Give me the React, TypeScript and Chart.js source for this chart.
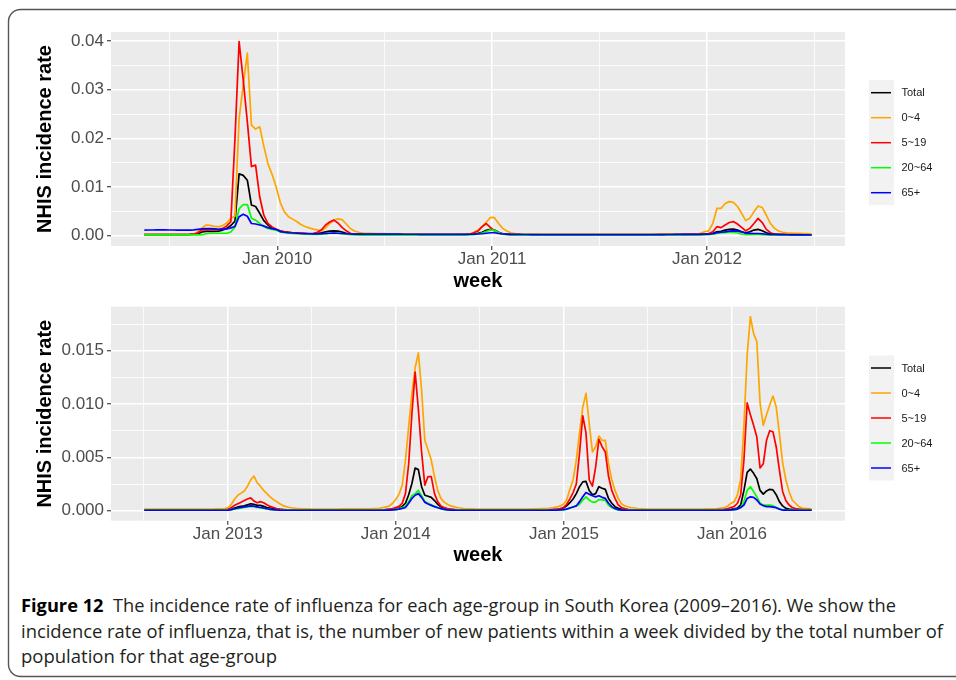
import React, { useEffect, useRef } from 'react';
import { Chart, registerables } from 'chart.js';

Chart.register(...registerables);

const SERIES_NAMES = ['Total', '0~4', '5~19', '20~64', '65+'];
const SERIES_COLORS = ['#000000', '#FFA500', '#FF0000', '#00FF00', '#0000FF'];

// ---- Top panel: weekly incidence, per 1,000 population (week 0 = 2009-05-20) ----
const TOP_START = '2009-05-20';
const TOP_TOTAL = [
  0.2, 0.2, 0.2, 0.2, 0.2, 0.2, 0.2, 0.2, 0.22, 0.22,
  0.22, 0.25, 0.3, 0.4, 0.75, 0.9, 0.9, 0.9, 0.95, 1.15,
  1.5, 2.1, 3.0, 12.7, 12.4, 11.4, 6.3, 6.0, 4.6, 3.1,
  2.2, 1.6, 1.2, 0.95, 0.8, 0.7, 0.6, 0.55, 0.5, 0.45,
  0.4, 0.4, 0.45, 0.6, 0.8, 0.95, 1.0, 0.95, 0.75, 0.5,
  0.35, 0.3, 0.28, 0.27, 0.26, 0.25, 0.25, 0.25, 0.24, 0.24,
  0.24, 0.23, 0.23, 0.23, 0.22, 0.22, 0.22, 0.22, 0.22, 0.22,
  0.22, 0.22, 0.22, 0.23, 0.23, 0.24, 0.24, 0.25, 0.27, 0.3,
  0.35, 0.5, 0.7, 1.1, 1.3, 1.15, 0.7, 0.4, 0.3, 0.26,
  0.24, 0.22, 0.2, 0.2, 0.2, 0.2, 0.19, 0.19, 0.19, 0.19,
  0.18, 0.18, 0.18, 0.18, 0.18, 0.18, 0.18, 0.18, 0.18, 0.18,
  0.18, 0.18, 0.18, 0.18, 0.18, 0.18, 0.18, 0.18, 0.18, 0.18,
  0.18, 0.19, 0.19, 0.19, 0.2, 0.2, 0.2, 0.21, 0.21, 0.22,
  0.22, 0.23, 0.24, 0.25, 0.27, 0.28, 0.3, 0.35, 0.5, 0.8,
  0.9, 1.15, 1.3, 1.35, 1.15, 0.8, 0.6, 0.8, 1.15, 1.3,
  1.0, 0.6, 0.35, 0.28, 0.25, 0.24, 0.22, 0.2, 0.2, 0.19,
  0.18, 0.17, 0.16,
];
const TOP_AGE0_4 = [
  0.2, 0.2, 0.2, 0.2, 0.2, 0.2, 0.2, 0.2, 0.22, 0.22,
  0.22, 0.25, 0.3, 0.8, 1.6, 2.2, 2.1, 1.9, 1.8, 2.1,
  2.6, 3.6, 4.0, 24.0, 31.0, 37.5, 22.7, 21.9, 22.4, 18.4,
  14.8, 12.6, 10.0, 6.8, 4.9, 3.9, 3.4, 2.9, 2.3, 1.9,
  1.6, 1.35, 1.2, 1.0, 1.6, 2.5, 3.2, 3.45, 3.3, 2.4,
  1.5, 0.95, 0.7, 0.55, 0.5, 0.48, 0.45, 0.45, 0.42, 0.4,
  0.4, 0.38, 0.38, 0.36, 0.35, 0.35, 0.34, 0.34, 0.33, 0.33,
  0.32, 0.32, 0.32, 0.32, 0.32, 0.32, 0.32, 0.32, 0.33, 0.35,
  0.7, 1.15, 1.85, 2.75, 3.75, 3.7, 2.5, 1.5, 0.95, 0.6,
  0.42, 0.35, 0.32, 0.3, 0.3, 0.3, 0.3, 0.3, 0.3, 0.3,
  0.3, 0.3, 0.3, 0.3, 0.3, 0.3, 0.3, 0.3, 0.3, 0.3,
  0.3, 0.3, 0.3, 0.3, 0.3, 0.3, 0.3, 0.3, 0.3, 0.3,
  0.3, 0.3, 0.3, 0.3, 0.3, 0.3, 0.31, 0.31, 0.32, 0.32,
  0.32, 0.33, 0.33, 0.34, 0.35, 0.5, 0.8, 1.0, 2.5, 5.6,
  5.6, 6.6, 7.0, 6.85, 6.0, 4.6, 3.1, 3.6, 4.9, 6.1,
  5.8, 4.2, 2.5, 1.5, 0.95, 0.7, 0.6, 0.55, 0.5, 0.48,
  0.45, 0.42, 0.4,
];
const TOP_AGE5_19 = [
  0.2, 0.2, 0.2, 0.2, 0.2, 0.2, 0.2, 0.2, 0.22, 0.22,
  0.22, 0.25, 0.3, 0.6, 1.2, 1.2, 1.25, 1.3, 1.2, 1.5,
  2.0, 2.9, 20.0, 39.9, 32.0, 23.4, 14.2, 14.5, 8.0, 4.2,
  2.5, 1.8, 1.3, 1.0, 0.8, 0.7, 0.6, 0.55, 0.5, 0.45,
  0.45, 0.5, 0.7, 1.2, 2.2, 2.8, 3.2, 2.6, 1.7, 1.0,
  0.5, 0.3, 0.25, 0.23, 0.22, 0.22, 0.21, 0.21, 0.2, 0.2,
  0.2, 0.2, 0.2, 0.2, 0.2, 0.2, 0.2, 0.2, 0.2, 0.2,
  0.2, 0.2, 0.2, 0.2, 0.2, 0.2, 0.21, 0.22, 0.24, 0.3,
  0.6, 0.95, 1.85, 2.5, 1.7, 1.0, 0.6, 0.35, 0.25, 0.22,
  0.2, 0.2, 0.19, 0.19, 0.19, 0.18, 0.18, 0.18, 0.18, 0.18,
  0.18, 0.18, 0.18, 0.18, 0.18, 0.18, 0.18, 0.18, 0.18, 0.18,
  0.18, 0.18, 0.18, 0.18, 0.18, 0.18, 0.18, 0.18, 0.18, 0.18,
  0.18, 0.18, 0.18, 0.19, 0.19, 0.2, 0.2, 0.21, 0.22, 0.23,
  0.24, 0.25, 0.26, 0.27, 0.28, 0.3, 0.35, 0.45, 0.8, 1.85,
  1.65, 2.2, 2.7, 2.9, 2.4, 1.7, 1.0, 1.5, 2.5, 3.55,
  2.7, 1.3, 0.6, 0.35, 0.28, 0.25, 0.23, 0.22, 0.2, 0.2,
  0.19, 0.18, 0.17,
];
const TOP_AGE20_64 = [
  0.15, 0.15, 0.15, 0.15, 0.15, 0.15, 0.15, 0.15, 0.15, 0.15,
  0.15, 0.15, 0.15, 0.15, 0.2, 0.4, 0.5, 0.5, 0.5, 0.5,
  0.5, 0.75, 1.8, 5.5, 6.4, 6.4, 3.6, 3.2, 2.5, 1.85,
  1.5, 1.3, 1.15, 0.75, 0.6, 0.5, 0.45, 0.4, 0.35, 0.3,
  0.28, 0.25, 0.25, 0.3, 0.4, 0.5, 0.55, 0.5, 0.4, 0.3,
  0.2, 0.15, 0.14, 0.13, 0.13, 0.12, 0.12, 0.12, 0.12, 0.12,
  0.12, 0.12, 0.12, 0.12, 0.12, 0.12, 0.12, 0.12, 0.12, 0.12,
  0.12, 0.12, 0.12, 0.12, 0.12, 0.12, 0.12, 0.12, 0.13, 0.15,
  0.2, 0.35, 0.55, 0.85, 1.2, 1.1, 0.6, 0.3, 0.2, 0.15,
  0.13, 0.12, 0.12, 0.11, 0.11, 0.1, 0.1, 0.1, 0.1, 0.1,
  0.1, 0.1, 0.1, 0.1, 0.1, 0.1, 0.1, 0.1, 0.1, 0.1,
  0.1, 0.1, 0.1, 0.1, 0.1, 0.1, 0.1, 0.1, 0.1, 0.1,
  0.1, 0.1, 0.1, 0.1, 0.1, 0.11, 0.11, 0.12, 0.12, 0.13,
  0.13, 0.14, 0.14, 0.15, 0.15, 0.16, 0.18, 0.2, 0.3, 0.48,
  0.55, 0.6, 0.7, 0.7, 0.55, 0.35, 0.2, 0.2, 0.25, 0.28,
  0.22, 0.15, 0.12, 0.11, 0.1, 0.1, 0.1, 0.1, 0.1, 0.1,
  0.1, 0.1, 0.1,
];
const TOP_AGE65 = [
  1.16, 1.17, 1.17, 1.18, 1.18, 1.18, 1.17, 1.17, 1.16, 1.16,
  1.16, 1.16, 1.18, 1.3, 1.4, 1.45, 1.45, 1.4, 1.3, 1.35,
  1.4, 1.6, 1.9, 3.9, 4.4, 4.0, 2.5, 2.4, 2.2, 2.0,
  1.65, 1.45, 1.3, 0.85, 0.7, 0.6, 0.55, 0.5, 0.45, 0.42,
  0.4, 0.38, 0.38, 0.4, 0.45, 0.5, 0.55, 0.5, 0.45, 0.4,
  0.35, 0.33, 0.32, 0.32, 0.31, 0.31, 0.3, 0.3, 0.3, 0.3,
  0.3, 0.3, 0.3, 0.29, 0.29, 0.29, 0.29, 0.28, 0.28, 0.28,
  0.28, 0.28, 0.28, 0.28, 0.28, 0.28, 0.28, 0.28, 0.28, 0.29,
  0.3, 0.35, 0.4, 0.5, 0.6, 0.6, 0.45, 0.35, 0.3, 0.28,
  0.26, 0.25, 0.24, 0.24, 0.23, 0.23, 0.22, 0.22, 0.22, 0.22,
  0.22, 0.22, 0.22, 0.22, 0.22, 0.22, 0.22, 0.22, 0.22, 0.22,
  0.22, 0.22, 0.22, 0.22, 0.22, 0.22, 0.22, 0.22, 0.22, 0.22,
  0.22, 0.22, 0.22, 0.22, 0.22, 0.23, 0.23, 0.24, 0.24, 0.25,
  0.25, 0.26, 0.26, 0.27, 0.27, 0.28, 0.29, 0.3, 0.4, 0.6,
  0.7, 0.8, 0.95, 1.0, 0.95, 0.8, 0.5, 0.48, 0.45, 0.45,
  0.4, 0.3, 0.27, 0.25, 0.22, 0.2, 0.19, 0.18, 0.17, 0.16,
  0.15, 0.15, 0.14,
];

// ---- Bottom panel: weekly incidence, per 1,000 population (week 0 = 2012-07-04) ----
const BOTTOM_START = '2012-07-04';
const BOTTOM_TOTAL = [
  0.08, 0.08, 0.08, 0.08, 0.08, 0.08, 0.08, 0.08, 0.08, 0.08,
  0.08, 0.08, 0.08, 0.08, 0.08, 0.08, 0.08, 0.08, 0.08, 0.08,
  0.08, 0.08, 0.08, 0.08, 0.08, 0.09, 0.1, 0.15, 0.25, 0.35,
  0.4, 0.45, 0.55, 0.65, 0.6, 0.5, 0.5, 0.4, 0.3, 0.25,
  0.2, 0.15, 0.12, 0.1, 0.09, 0.08, 0.08, 0.08, 0.08, 0.08,
  0.08, 0.08, 0.08, 0.08, 0.08, 0.08, 0.08, 0.08, 0.08, 0.08,
  0.08, 0.08, 0.08, 0.08, 0.08, 0.08, 0.08, 0.08, 0.08, 0.08,
  0.08, 0.08, 0.08, 0.08, 0.09, 0.1, 0.11, 0.12, 0.18, 0.25,
  0.4, 0.7, 1.5, 2.55, 4.0, 3.85, 2.25, 1.45, 1.35, 1.25,
  0.95, 0.6, 0.35, 0.25, 0.18, 0.12, 0.1, 0.09, 0.08, 0.08,
  0.08, 0.08, 0.08, 0.08, 0.08, 0.08, 0.08, 0.08, 0.08, 0.08,
  0.08, 0.08, 0.08, 0.08, 0.08, 0.08, 0.08, 0.08, 0.08, 0.08,
  0.08, 0.08, 0.08, 0.08, 0.08, 0.08, 0.09, 0.1, 0.11, 0.15,
  0.25, 0.45, 0.75, 1.1, 1.6, 2.25, 2.7, 2.75, 1.9, 1.5,
  1.6, 2.25, 2.1, 2.0, 1.15, 0.7, 0.38, 0.22, 0.15, 0.1,
  0.09, 0.08, 0.08, 0.08, 0.08, 0.08, 0.08, 0.08, 0.08, 0.08,
  0.08, 0.08, 0.08, 0.08, 0.08, 0.08, 0.08, 0.08, 0.08, 0.08,
  0.08, 0.08, 0.08, 0.08, 0.08, 0.08, 0.08, 0.08, 0.09, 0.09,
  0.1, 0.11, 0.12, 0.18, 0.25, 0.55, 1.9, 3.6, 3.9, 3.5,
  3.0, 1.9, 1.55, 1.85, 2.0, 1.95, 1.5, 0.85, 0.45, 0.22,
  0.15, 0.12, 0.1, 0.1, 0.1, 0.09, 0.09, 0.08,
];
const BOTTOM_AGE0_4 = [
  0.16, 0.16, 0.16, 0.16, 0.16, 0.16, 0.16, 0.16, 0.16, 0.16,
  0.16, 0.16, 0.16, 0.16, 0.16, 0.16, 0.16, 0.16, 0.16, 0.16,
  0.16, 0.16, 0.17, 0.17, 0.18, 0.2, 0.3, 0.6, 1.1, 1.45,
  1.65, 1.85, 2.3, 2.9, 3.25, 2.6, 2.3, 1.9, 1.6, 1.3,
  1.05, 0.85, 0.65, 0.48, 0.38, 0.3, 0.25, 0.22, 0.2, 0.18,
  0.17, 0.17, 0.16, 0.16, 0.16, 0.16, 0.16, 0.16, 0.16, 0.16,
  0.16, 0.17, 0.17, 0.17, 0.17, 0.17, 0.17, 0.17, 0.18, 0.18,
  0.18, 0.19, 0.2, 0.22, 0.3, 0.35, 0.45, 0.7, 1.05, 1.55,
  2.4, 4.75, 7.9, 11.0, 13.4, 14.8, 11.3, 6.6, 5.7, 4.75,
  3.2, 1.9, 1.15, 0.8, 0.6, 0.45, 0.38, 0.3, 0.25, 0.2,
  0.18, 0.17, 0.17, 0.16, 0.16, 0.16, 0.16, 0.16, 0.16, 0.16,
  0.16, 0.16, 0.16, 0.16, 0.16, 0.16, 0.16, 0.16, 0.16, 0.16,
  0.17, 0.17, 0.18, 0.19, 0.2, 0.22, 0.25, 0.3, 0.35, 0.45,
  0.6, 1.0, 2.0, 2.9, 4.75, 7.3, 9.7, 11.0, 8.2, 5.5,
  6.0, 7.0, 6.6, 6.6, 4.4, 2.9, 1.9, 1.15, 0.65, 0.45,
  0.37, 0.3, 0.25, 0.2, 0.18, 0.17, 0.16, 0.16, 0.16, 0.16,
  0.16, 0.16, 0.16, 0.16, 0.16, 0.16, 0.16, 0.16, 0.16, 0.16,
  0.16, 0.16, 0.16, 0.16, 0.17, 0.17, 0.18, 0.18, 0.2, 0.25,
  0.3, 0.45, 0.7, 0.85, 1.5, 3.0, 8.0, 14.6, 18.2, 16.6,
  15.85, 10.1, 8.0, 9.0, 9.9, 10.75, 9.75, 7.25, 4.5, 2.9,
  1.8, 1.0, 0.7, 0.4, 0.25, 0.22, 0.2, 0.15,
];
const BOTTOM_AGE5_19 = [
  0.08, 0.08, 0.08, 0.08, 0.08, 0.08, 0.08, 0.08, 0.08, 0.08,
  0.08, 0.08, 0.08, 0.08, 0.08, 0.08, 0.08, 0.08, 0.08, 0.08,
  0.08, 0.08, 0.08, 0.08, 0.08, 0.09, 0.12, 0.3, 0.5, 0.65,
  0.8, 0.95, 1.1, 1.2, 0.9, 0.75, 0.85, 0.75, 0.55, 0.4,
  0.3, 0.2, 0.15, 0.12, 0.1, 0.09, 0.08, 0.08, 0.08, 0.08,
  0.08, 0.08, 0.08, 0.08, 0.08, 0.08, 0.08, 0.08, 0.08, 0.08,
  0.08, 0.08, 0.08, 0.08, 0.08, 0.08, 0.08, 0.08, 0.08, 0.08,
  0.08, 0.08, 0.08, 0.08, 0.09, 0.1, 0.15, 0.2, 0.3, 0.4,
  0.7, 1.6, 4.4, 9.1, 13.0, 9.5, 5.5, 2.4, 3.2, 3.2,
  1.6, 0.85, 0.45, 0.3, 0.2, 0.15, 0.12, 0.1, 0.09, 0.08,
  0.08, 0.08, 0.08, 0.08, 0.08, 0.08, 0.08, 0.08, 0.08, 0.08,
  0.08, 0.08, 0.08, 0.08, 0.08, 0.08, 0.08, 0.08, 0.08, 0.08,
  0.08, 0.08, 0.08, 0.08, 0.08, 0.09, 0.1, 0.12, 0.15, 0.2,
  0.3, 0.6, 1.1, 1.7, 2.5, 5.4, 8.9, 7.3, 2.9, 2.3,
  4.1, 6.7, 6.0, 5.5, 3.2, 1.9, 1.15, 0.55, 0.3, 0.2,
  0.12, 0.1, 0.09, 0.08, 0.08, 0.08, 0.08, 0.08, 0.08, 0.08,
  0.08, 0.08, 0.08, 0.08, 0.08, 0.08, 0.08, 0.08, 0.08, 0.08,
  0.08, 0.08, 0.08, 0.08, 0.08, 0.08, 0.09, 0.09, 0.1, 0.1,
  0.12, 0.2, 0.3, 0.4, 0.7, 1.5, 4.75, 10.1, 9.0, 8.0,
  6.9, 4.0, 4.4, 6.6, 7.5, 7.4, 6.0, 3.8, 1.8, 0.95,
  0.53, 0.3, 0.2, 0.15, 0.12, 0.1, 0.1, 0.09,
];
const BOTTOM_AGE20_64 = [
  0.05, 0.05, 0.05, 0.05, 0.05, 0.05, 0.05, 0.05, 0.05, 0.05,
  0.05, 0.05, 0.05, 0.05, 0.05, 0.05, 0.05, 0.05, 0.05, 0.05,
  0.05, 0.05, 0.05, 0.05, 0.05, 0.05, 0.06, 0.1, 0.15, 0.2,
  0.25, 0.3, 0.35, 0.4, 0.38, 0.3, 0.28, 0.22, 0.16, 0.12,
  0.08, 0.07, 0.06, 0.05, 0.05, 0.05, 0.05, 0.05, 0.05, 0.05,
  0.05, 0.05, 0.05, 0.05, 0.05, 0.05, 0.05, 0.05, 0.05, 0.05,
  0.05, 0.05, 0.05, 0.05, 0.05, 0.05, 0.05, 0.05, 0.05, 0.05,
  0.05, 0.05, 0.05, 0.05, 0.05, 0.05, 0.06, 0.08, 0.12, 0.2,
  0.3, 0.4, 0.85, 1.4, 1.6, 1.9, 1.4, 0.85, 0.7, 0.55,
  0.4, 0.3, 0.2, 0.12, 0.08, 0.06, 0.05, 0.05, 0.05, 0.05,
  0.05, 0.05, 0.05, 0.05, 0.05, 0.05, 0.05, 0.05, 0.05, 0.05,
  0.05, 0.05, 0.05, 0.05, 0.05, 0.05, 0.05, 0.05, 0.05, 0.05,
  0.05, 0.05, 0.05, 0.05, 0.05, 0.05, 0.05, 0.06, 0.07, 0.08,
  0.1, 0.15, 0.25, 0.35, 0.45, 0.6, 1.0, 1.3, 1.0, 0.8,
  0.8, 1.05, 1.0, 1.0, 0.5, 0.3, 0.15, 0.08, 0.06, 0.05,
  0.05, 0.05, 0.05, 0.05, 0.05, 0.05, 0.05, 0.05, 0.05, 0.05,
  0.05, 0.05, 0.05, 0.05, 0.05, 0.05, 0.05, 0.05, 0.05, 0.05,
  0.05, 0.05, 0.05, 0.05, 0.05, 0.05, 0.05, 0.05, 0.05, 0.05,
  0.05, 0.06, 0.08, 0.1, 0.15, 0.3, 0.85, 1.9, 2.25, 1.8,
  1.3, 0.7, 0.53, 0.53, 0.53, 0.47, 0.3, 0.15, 0.08, 0.06,
  0.05, 0.05, 0.05, 0.05, 0.05, 0.05, 0.05, 0.05,
];
const BOTTOM_AGE65 = [
  0.04, 0.04, 0.04, 0.04, 0.04, 0.04, 0.04, 0.04, 0.04, 0.04,
  0.04, 0.04, 0.04, 0.04, 0.04, 0.04, 0.04, 0.04, 0.04, 0.04,
  0.04, 0.04, 0.04, 0.04, 0.04, 0.04, 0.06, 0.1, 0.18, 0.25,
  0.3, 0.35, 0.4, 0.45, 0.43, 0.35, 0.3, 0.25, 0.18, 0.13,
  0.1, 0.07, 0.05, 0.04, 0.04, 0.04, 0.04, 0.04, 0.04, 0.04,
  0.04, 0.04, 0.04, 0.04, 0.04, 0.04, 0.04, 0.04, 0.04, 0.04,
  0.04, 0.04, 0.04, 0.04, 0.04, 0.04, 0.04, 0.04, 0.04, 0.04,
  0.04, 0.04, 0.04, 0.04, 0.04, 0.05, 0.06, 0.08, 0.1, 0.15,
  0.22, 0.3, 0.7, 1.15, 1.45, 1.6, 1.25, 0.8, 0.62, 0.5,
  0.38, 0.28, 0.2, 0.12, 0.08, 0.06, 0.05, 0.04, 0.04, 0.04,
  0.04, 0.04, 0.04, 0.04, 0.04, 0.04, 0.04, 0.04, 0.04, 0.04,
  0.04, 0.04, 0.04, 0.04, 0.04, 0.04, 0.04, 0.04, 0.04, 0.04,
  0.04, 0.04, 0.04, 0.04, 0.04, 0.04, 0.05, 0.05, 0.06, 0.08,
  0.1, 0.15, 0.25, 0.35, 0.45, 0.85, 1.3, 1.7, 1.55, 1.4,
  1.3, 1.4, 1.25, 1.15, 0.7, 0.38, 0.2, 0.1, 0.06, 0.05,
  0.04, 0.04, 0.04, 0.04, 0.04, 0.04, 0.04, 0.04, 0.04, 0.04,
  0.04, 0.04, 0.04, 0.04, 0.04, 0.04, 0.04, 0.04, 0.04, 0.04,
  0.04, 0.04, 0.04, 0.04, 0.04, 0.04, 0.04, 0.04, 0.04, 0.04,
  0.05, 0.06, 0.08, 0.1, 0.15, 0.3, 0.53, 1.15, 1.3, 1.25,
  1.0, 0.62, 0.47, 0.38, 0.38, 0.34, 0.28, 0.15, 0.06, 0.05,
  0.04, 0.04, 0.04, 0.04, 0.04, 0.04, 0.04, 0.04,
];

// ---- Axis ticks ----
const TOP_X_MAJOR = ['2010-01-01', '2011-01-01', '2012-01-01'];
const TOP_X_LABELS = ['Jan 2010', 'Jan 2011', 'Jan 2012'];
const TOP_X_MINOR = ['2009-07-02', '2010-07-02', '2011-07-02', '2012-07-02'];
const BOTTOM_X_MAJOR = ['2013-01-01', '2014-01-01', '2015-01-01', '2016-01-01'];
const BOTTOM_X_LABELS = ['Jan 2013', 'Jan 2014', 'Jan 2015', 'Jan 2016'];
const BOTTOM_X_MINOR = ['2012-07-02', '2013-07-02', '2014-07-02', '2015-07-02', '2016-07-02'];
const TOP_Y_MAJOR = [0, 0.01, 0.02, 0.03, 0.04];
const TOP_Y_LABELS = ['0.00', '0.01', '0.02', '0.03', '0.04'];
const TOP_Y_MINOR = [0.005, 0.015, 0.025, 0.035];
const BOTTOM_Y_MAJOR = [0, 0.005, 0.01, 0.015];
const BOTTOM_Y_LABELS = ['0.000', '0.005', '0.010', '0.015'];
const BOTTOM_Y_MINOR = [0.0025, 0.0075, 0.0125, 0.0175];

const CAPTION_BOLD = 'Figure 12';
const CAPTION_LINES = [
  'The incidence rate of influenza for each age-group in South Korea (2009\u20132016). We show the',
  'incidence rate of influenza, that is, the number of new patients within a week divided by the total number of',
  'population for that age-group',
];

const DAY = 86400000;
const FONT = '"Liberation Sans", Arial, Helvetica, sans-serif';

function weeklyPoints(startISO: string, vals: number[]) {
  const t0 = Date.parse(startISO);
  return vals.map((v, k) => ({ x: t0 + k * 7 * DAY, y: v / 1000 }));
}

function makeTicks(major: number[], labels: string[], minor: number[]) {
  const t = [
    ...major.map((v, k) => ({ value: v, major: true, lbl: labels[k] })),
    ...minor.map((v) => ({ value: v, major: false, lbl: '' })),
  ];
  return t.sort((a, b) => a.value - b.value);
}

const panelBg = {
  id: 'panelBg',
  beforeDraw(chart: any) {
    const { ctx, chartArea } = chart;
    ctx.save();
    ctx.fillStyle = '#EBEBEB';
    ctx.fillRect(chartArea.left, chartArea.top, chartArea.right - chartArea.left, chartArea.bottom - chartArea.top);
    ctx.restore();
  },
};

const ggLegend = {
  id: 'ggLegend',
  afterDraw(chart: any, _args: any, opts: any) {
    const { ctx } = chart;
    const ds = chart.data.datasets;
    const rowH = opts.rowH;
    ctx.save();
    ctx.fillStyle = '#F2F2F2';
    ctx.fillRect(opts.x, opts.top, 25, rowH * ds.length);
    ds.forEach((d: any, k: number) => {
      const y = opts.top + rowH / 2 + k * rowH;
      ctx.strokeStyle = d.borderColor;
      ctx.lineWidth = 1.5;
      ctx.beginPath();
      ctx.moveTo(opts.x + 2, y);
      ctx.lineTo(opts.x + 22, y);
      ctx.stroke();
      ctx.fillStyle = '#1A1A1A';
      ctx.font = '11px ' + FONT;
      ctx.textBaseline = 'middle';
      ctx.textAlign = 'left';
      ctx.fillText(d.label, opts.x + 32.5, y + 0.5);
    });
    ctx.restore();
  },
};

function buildConfig(p: any) {
  const t0 = Date.parse(p.start);
  const t1 = t0 + (p.series[0].length - 1) * 7 * DAY;
  const pad = (t1 - t0) * 0.05;
  const xTicks = makeTicks(p.xMajor.map((s: string) => Date.parse(s)), p.xLabels, p.xMinor.map((s: string) => Date.parse(s)));
  const yTicks = makeTicks(p.yMajor, p.yLabels, p.yMinor);
  const gridCommon = {
    color: '#FFFFFF',
    lineWidth: (c: any) => (c.tick && c.tick.major ? 1.5 : 0.8),
    tickLength: 4,
    tickWidth: 1.1,
    tickColor: (c: any) => (c.tick && c.tick.major ? '#333333' : 'rgba(0,0,0,0)'),
  };
  return {
    type: 'line',
    data: {
      datasets: p.series.map((vals: number[], k: number) => ({
        label: SERIES_NAMES[k],
        data: weeklyPoints(p.start, vals),
        borderColor: SERIES_COLORS[k],
        backgroundColor: SERIES_COLORS[k],
        borderWidth: 1.7,
        pointRadius: 0,
        tension: 0,
        fill: false,
        borderJoinStyle: 'round',
        order: SERIES_NAMES.length - k,
      })),
    },
    options: {
      animation: false,
      responsive: false,
      devicePixelRatio: 1,
      layout: { padding: { left: 0, right: 111, top: p.padTop, bottom: 0 } },
      scales: {
        x: {
          type: 'linear',
          min: t0 - pad,
          max: t1 + pad,
          afterBuildTicks: (s: any) => { s.ticks = xTicks.map((t) => ({ ...t })); },
          afterFit: (s: any) => { s.height = p.xHeight; },
          ticks: {
            autoSkip: false,
            maxRotation: 0,
            padding: 1,
            color: '#4D4D4D',
            font: { family: FONT, size: 17, lineHeight: 1 },
            callback: (_v: any, i: number, ts: any[]) => ts[i].lbl,
          },
          grid: gridCommon,
          border: { display: false },
          title: {
            display: true,
            text: 'week',
            color: '#000000',
            font: { family: FONT, size: 20, weight: 'bold' },
            padding: { top: 0, bottom: p.xTitlePad },
          },
        },
        y: {
          type: 'linear',
          min: p.yMin,
          max: p.yMax,
          afterBuildTicks: (s: any) => { s.ticks = yTicks.map((t) => ({ ...t })); },
          afterFit: (s: any) => { s.width = 111; },
          ticks: {
            autoSkip: false,
            padding: 3,
            color: '#4D4D4D',
            font: { family: FONT, size: 17 },
            callback: (_v: any, i: number, ts: any[]) => ts[i].lbl,
          },
          grid: gridCommon,
          border: { display: false },
          title: {
            display: true,
            text: 'NHIS incidence rate',
            color: '#000000',
            font: { family: FONT, size: 20, weight: 'bold' },
            padding: { top: 33, bottom: 0 },
          },
        },
      },
      plugins: {
        legend: { display: false },
        tooltip: { enabled: false },
        ggLegend: { x: 869, top: p.legendTop, rowH: 25 },
      },
    },
    plugins: [panelBg, ggLegend],
  };
}

export default function App() {
  const topRef = useRef<HTMLCanvasElement | null>(null);
  const botRef = useRef<HTMLCanvasElement | null>(null);

  useEffect(() => {
    const top = new Chart(topRef.current as any, buildConfig({
      start: TOP_START,
      series: [TOP_TOTAL, TOP_AGE0_4, TOP_AGE5_19, TOP_AGE20_64, TOP_AGE65],
      xMajor: TOP_X_MAJOR, xLabels: TOP_X_LABELS, xMinor: TOP_X_MINOR,
      yMajor: TOP_Y_MAJOR, yLabels: TOP_Y_LABELS, yMinor: TOP_Y_MINOR,
      yMin: -0.00212, yMax: 0.04185,
      padTop: 32, xHeight: 54, xTitlePad: 7, legendTop: 80.2,
    }) as any);
    const bot = new Chart(botRef.current as any, buildConfig({
      start: BOTTOM_START,
      series: [BOTTOM_TOTAL, BOTTOM_AGE0_4, BOTTOM_AGE5_19, BOTTOM_AGE20_64, BOTTOM_AGE65],
      xMajor: BOTTOM_X_MAJOR, xLabels: BOTTOM_X_LABELS, xMinor: BOTTOM_X_MINOR,
      yMajor: BOTTOM_Y_MAJOR, yLabels: BOTTOM_Y_LABELS, yMinor: BOTTOM_Y_MINOR,
      yMin: -0.000938, yMax: 0.019125,
      padTop: 16.7, xHeight: 69.3, xTitlePad: 22.3, legendTop: 65.5,
    }) as any);
    return () => { top.destroy(); bot.destroy(); };
  }, []);

  const capFont = '"Open Sans", "Noto Sans", sans-serif';
  return (
    <div style={{ position: 'fixed', left: 0, top: 0, width: 956, height: 680, overflow: 'hidden', background: '#FFFFFF' }}>
      <svg width={956} height={680} style={{ position: 'absolute', left: 0, top: 0 }}>
        <rect x={8.5} y={9.5} width={1000} height={667} rx={12} ry={12} fill="none" stroke="#555555" strokeWidth={1.4} />
        <text x={21} y={612} textLength={875} lengthAdjust="spacingAndGlyphs" fontFamily={capFont} fontSize={18.5} fill="#231F20">
          <tspan fontWeight={700} fill="#000000">{CAPTION_BOLD}</tspan>
          <tspan>{'\u00a0\u00a0' + CAPTION_LINES[0]}</tspan>
        </text>
        <text x={21} y={637.5} textLength={922} lengthAdjust="spacingAndGlyphs" fontFamily={capFont} fontSize={18.5} fill="#231F20">
          {CAPTION_LINES[1]}
        </text>
        <text x={21} y={662.5} textLength={256} lengthAdjust="spacingAndGlyphs" fontFamily={capFont} fontSize={18.5} fill="#231F20">
          {CAPTION_LINES[2]}
        </text>
      </svg>
      <canvas ref={topRef} width={956} height={300} style={{ position: 'absolute', left: 0, top: 0, width: 956, height: 300 }} />
      <canvas ref={botRef} width={956} height={300} style={{ position: 'absolute', left: 0, top: 290, width: 956, height: 300 }} />
    </div>
  );
}
